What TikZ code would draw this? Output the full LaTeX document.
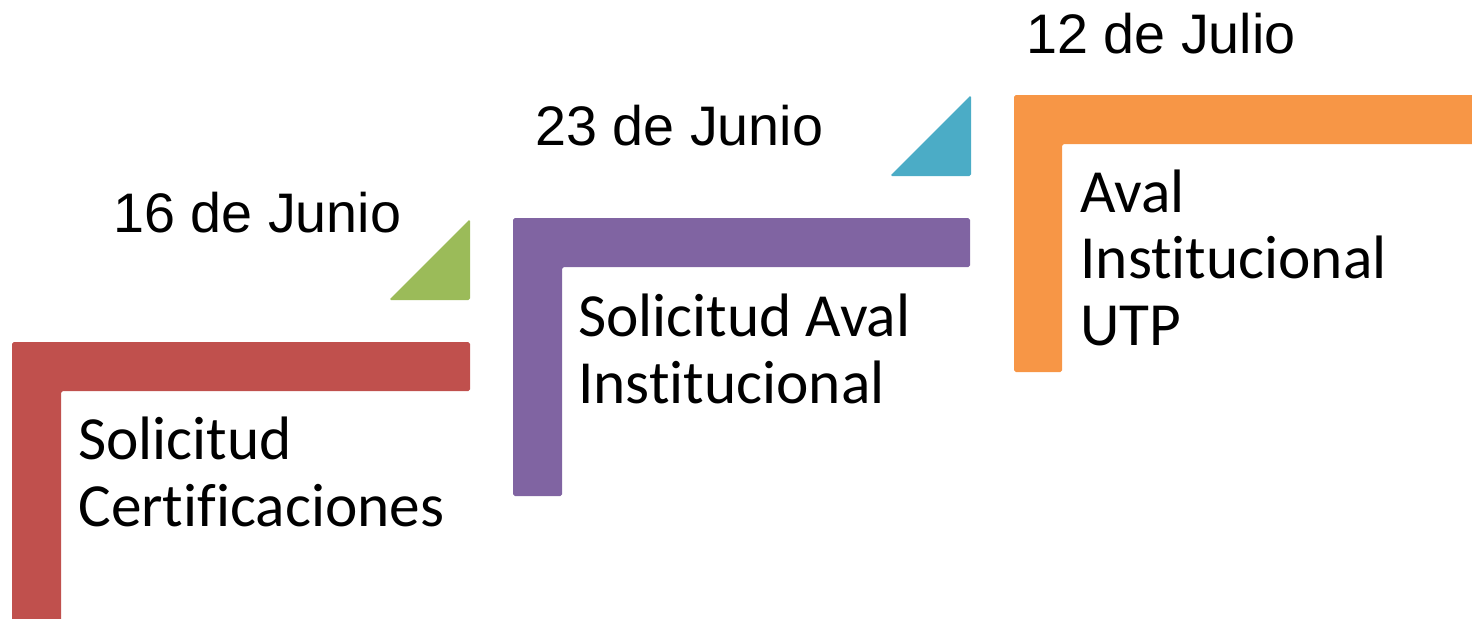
\documentclass[tikz,border=0pt]{standalone}
\usepackage{fontspec}
\setmainfont{Carlito}[Ligatures=NoCommon]
\newfontfamily\datefont{Liberation Sans}
\usepackage{tikz}
\usetikzlibrary{calc}
\definecolor{stepred}{HTML}{C0504D}
\definecolor{steppurple}{HTML}{8064A2}
\definecolor{steporange}{HTML}{F79646}
\definecolor{wedgegreen}{HTML}{9BBB59}
\definecolor{wedgeblue}{HTML}{4BACC6}

\begin{document}
\begin{tikzpicture}[
    x=0.02cm, y=-0.02cm,
    stepbar/.style={draw=none, rounded corners=1pt},
    wedge/.style={draw=none, rounded corners=1pt},
    datelabel/.style={anchor=base west, inner sep=0pt, font=\datefont\fontsize{31.7}{35}\selectfont},
    stepname/.style={anchor=base west, inner sep=0pt, align=left, font=\fontsize{34.9}{37.6}\selectfont}
]
\useasboundingbox (0,0) rectangle (1472,619);
% step one
\fill[stepbar, stepred] (12,625) -- (12,342) -- (470,342) -- (470,391) -- (61,391) -- (61,625) -- cycle;
\fill[wedge, wedgegreen] (389,300) -- (470,219) -- (470,300) -- cycle;
\node[datelabel] (dateone) at (113,232) {16 de Junio};
\node[stepname] (stepone) at (78,526) {Solicitud\\Certificaciones};
% step two
\fill[stepbar, steppurple] (513,496) -- (513,218) -- (970,218) -- (970,267) -- (562,267) -- (562,496) -- cycle;
\fill[wedge, wedgeblue] (890,176) -- (971,95) -- (971,176) -- cycle;
\node[datelabel] (datetwo) at (535,145) {23 de Junio};
\node[stepname] (steptwo) at (578,403) {Solicitud Aval\\Institucional};
% step three
\fill[stepbar, steporange] (1014,372) -- (1014,95) -- (1478,95) -- (1478,144) -- (1062,144) -- (1062,372) -- cycle;
\node[datelabel] (datethree) at (1026,53) {12 de Julio};
\node[stepname] (stepthree) at (1080,345) {Aval\\Institucional\\UTP};
\end{tikzpicture}
\end{document}
